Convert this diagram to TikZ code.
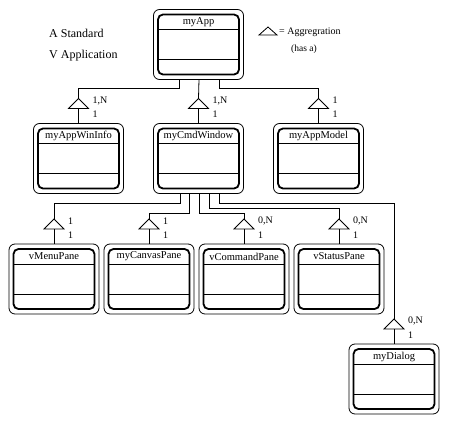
\documentclass[tikz,border=0pt]{standalone}
\usepackage{fontspec}
\setmainfont{Liberation Serif}
\usetikzlibrary{positioning,calc}
\tikzstyle{shell}=[rectangle,rounded corners=6pt,draw=black,line width=0.8pt,
minimum width=90pt,minimum height=70pt,inner sep=0pt,outer sep=0pt]
\tikzstyle{core}=[rectangle,rounded corners=5pt,draw=black,line width=1.8pt,
minimum width=81pt,minimum height=60pt,inner sep=0pt,outer sep=0pt]
\tikzstyle{boxtitle}=[font=\fontsize{10.5}{12}\selectfont,inner sep=0pt]
\tikzstyle{mult}=[font=\fontsize{10}{11}\selectfont,inner sep=0pt,anchor=west]
\tikzstyle{link}=[line width=0.8pt]
\tikzstyle{aggtri}=[line width=0.8pt,fill=white]

% class box: name, placement, title
\newcommand{\umlbox}[3]{%
  \node[shell,#2] (#1) {};
  \node[core] (#1-c) at (#1) {};
  \node[boxtitle] (#1-t) at ($(#1-c.north)+(0,7.5)$) {#3};
  \draw[link] ($(#1-c.north west)+(0,15)$) -- ($(#1-c.north east)+(0,15)$);
  \draw[link] ($(#1-c.north west)+(0,45)$) -- ($(#1-c.north east)+(0,45)$);
}
% aggregation triangle above a class box: name, box, upper label, lower label
\newcommand{\aggr}[4]{%
  \coordinate (#1) at ($(#2.north)+(0,-25)$);
  \coordinate (#1-b) at ($(#1)+(0,10)$);
  \draw[aggtri] (#1) -- ++(-10,10) -- ++(20,0) -- cycle;
  \draw[link] (#1-b) -- (#2.north);
  \node[mult] (#1-u) at ($(#1)+(14,2)$) {#3};
  \node[mult] (#1-l) at ($(#1)+(14,16)$) {#4};
}

\begin{document}
\begin{tikzpicture}[x=1pt,y=-1pt]
            \fill[white] (0,0) rectangle (451,426);
            \useasboundingbox (0,0) rectangle (451,426);

            % LEGEND PART

            \node[font=\fontsize{12}{14}\selectfont,anchor=base west,inner sep=0pt] (std) at (49,37) {A Standard};
            \node[font=\fontsize{12}{14}\selectfont,anchor=base west,inner sep=0pt] (vapp) at (49,58) {V Application};
            \coordinate (leg) at (268,27);
            \draw[aggtri] (leg) -- ++(-9,8) -- ++(18,0) -- cycle;
            \node[font=\fontsize{10}{11}\selectfont,anchor=base west,inner sep=0pt] (legtxt) at (279,34) {= Aggregration};
            \node[font=\fontsize{9.5}{10}\selectfont,anchor=base west,inner sep=0pt] (hasa) at (291,51) {(has a)};

            % TOP PART

            \umlbox{app}{at={(198.5,44.5)}}{myApp}
            \umlbox{cmd}{below=44pt of app}{myCmdWindow}
            \umlbox{win}{left=30pt of cmd}{myAppWinInfo}
            \umlbox{model}{right=30pt of cmd}{myAppModel}

            \aggr{a1}{win}{1,N}{1}
            \aggr{a2}{cmd}{1,N}{1}
            \aggr{a3}{model}{1}{1}

            \draw[link] ([xshift=-19.5pt]app.south) -- ++(0,9) -| (a1);
            \draw[link] ([xshift=0.5pt]app.south) -- (a2);
            \draw[link] ([xshift=20.5pt]app.south) -- ++(0,9) -| (a3);

            % PANE PART

            \umlbox{menu}{at={(54,279)}}{vMenuPane}
            \umlbox{canvas}{right=5pt of menu}{myCanvasPane}
            \umlbox{cmdpane}{right=5pt of canvas}{vCommandPane}
            \umlbox{status}{right=5pt of cmdpane}{vStatusPane}
            \umlbox{dialog}{at={(394,379)}}{myDialog}

            \aggr{a4}{menu}{1}{1}
            \aggr{a5}{canvas}{1}{1}
            \aggr{a6}{cmdpane}{0,N}{1}
            \aggr{a7}{status}{0,N}{1}
            \aggr{a8}{dialog}{0,N}{1}

            \draw[link] ([xshift=-18.5pt]cmd.south) -- ++(0,10) -| (a4);
            \draw[link] ([xshift=-9.5pt]cmd.south) -- ++(0,20) -| (a5);
            \draw[link] ([xshift=0.5pt]cmd.south) -- ++(0,20) -| (a6);
            \draw[link] ([xshift=10.5pt]cmd.south) -- ++(0,15) -| (a7);
            \draw[link] ([xshift=20.5pt]cmd.south) -- ++(0,10) -| (a8);

\end{tikzpicture}
\end{document}
